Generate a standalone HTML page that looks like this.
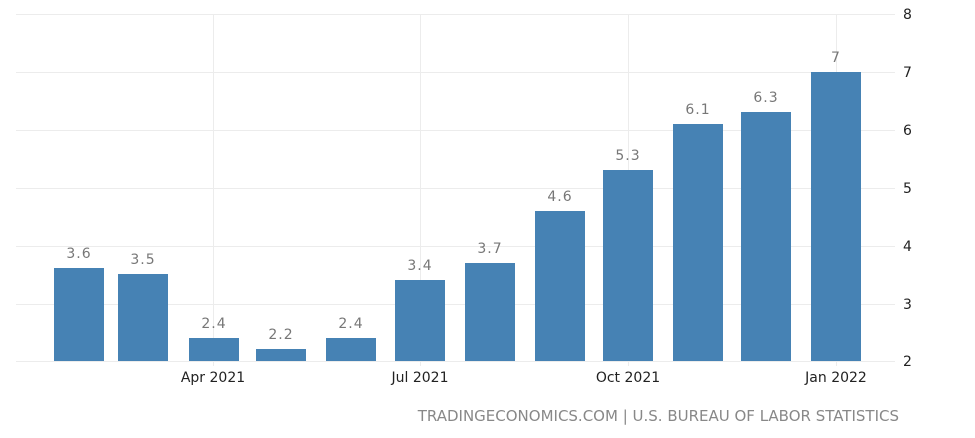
<!DOCTYPE html>
<html><head><meta charset="utf-8"><style>
html,body{margin:0;padding:0;background:#fff;width:975px;height:438px;overflow:hidden}
text{font-family:"DejaVu Sans","Liberation Sans",sans-serif}
</style></head><body>
<svg width="975" height="438" xmlns="http://www.w3.org/2000/svg">
<g stroke="#ececec" stroke-width="1">
<line x1="16" x2="895" y1="14.5" y2="14.5"/>
<line x1="16" x2="895" y1="72.5" y2="72.5"/>
<line x1="16" x2="895" y1="130.5" y2="130.5"/>
<line x1="16" x2="895" y1="188.5" y2="188.5"/>
<line x1="16" x2="895" y1="246.5" y2="246.5"/>
<line x1="16" x2="895" y1="304.5" y2="304.5"/>
<line x1="16" x2="895" y1="361.5" y2="361.5"/>
<line x1="213.5" x2="213.5" y1="14" y2="366"/>
<line x1="420.5" x2="420.5" y1="14" y2="366"/>
<line x1="628.5" x2="628.5" y1="14" y2="366"/>
<line x1="836.5" x2="836.5" y1="14" y2="366"/>
</g>
<g fill="#4682b4">
<rect x="54" y="268" width="50" height="93"/>
<rect x="118" y="274" width="50" height="87"/>
<rect x="189" y="338" width="50" height="23"/>
<rect x="256" y="349" width="50" height="12"/>
<rect x="326" y="338" width="50" height="23"/>
<rect x="395" y="280" width="50" height="81"/>
<rect x="465" y="263" width="50" height="98"/>
<rect x="535" y="211" width="50" height="150"/>
<rect x="603" y="170" width="50" height="191"/>
<rect x="673" y="124" width="50" height="237"/>
<rect x="741" y="112" width="50" height="249"/>
<rect x="811" y="72" width="50" height="289"/>
</g>
<g fill="#777" font-size="14" text-anchor="middle" letter-spacing="1">
<text x="79" y="258">3.6</text>
<text x="143" y="264">3.5</text>
<text x="214" y="328">2.4</text>
<text x="281" y="339">2.2</text>
<text x="351" y="328">2.4</text>
<text x="420" y="270">3.4</text>
<text x="490" y="253">3.7</text>
<text x="560" y="201">4.6</text>
<text x="628" y="160">5.3</text>
<text x="698" y="114">6.1</text>
<text x="766" y="102">6.3</text>
<text x="836" y="62">7</text>
</g>
<g fill="#222" font-size="14">
<text x="903" y="19">8</text>
<text x="903" y="77">7</text>
<text x="903" y="135">6</text>
<text x="903" y="193">5</text>
<text x="903" y="251">4</text>
<text x="903" y="309">3</text>
<text x="903" y="366">2</text>
</g>
<g fill="#222" font-size="14" text-anchor="middle">
<text x="213" y="382">Apr 2021</text>
<text x="420" y="382">Jul 2021</text>
<text x="628" y="382">Oct 2021</text>
<text x="836" y="382">Jan 2022</text>
</g>
<text x="899" y="421" fill="#888" font-size="15" text-anchor="end">TRADINGECONOMICS.COM | U.S. BUREAU OF LABOR STATISTICS</text>
</svg>
</body></html>
